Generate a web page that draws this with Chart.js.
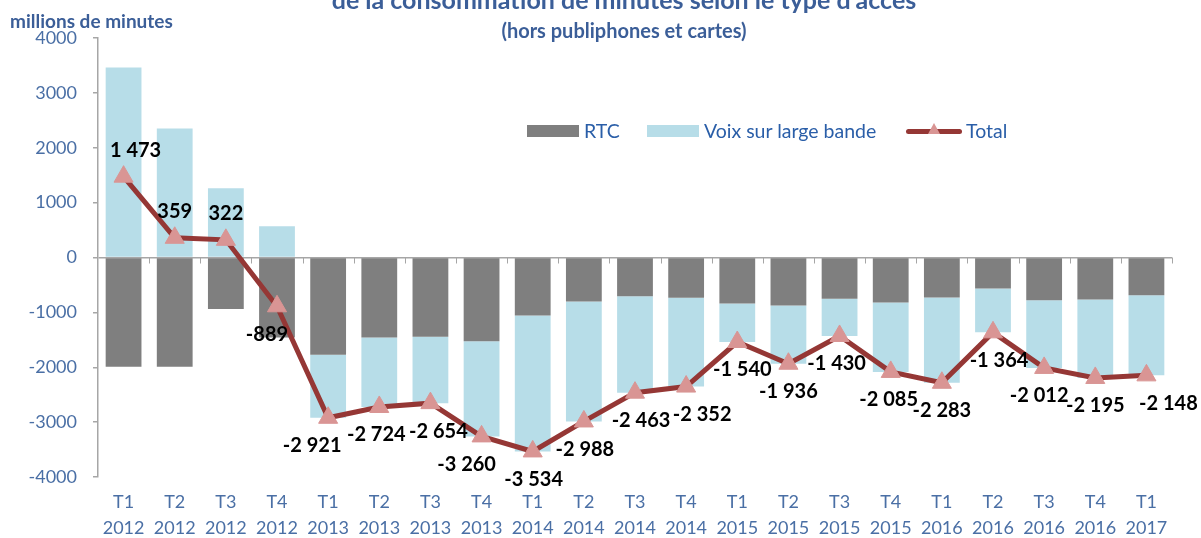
<!DOCTYPE html>
<html lang="fr">
<head>
<meta charset="utf-8">
<script src="https://cdn.jsdelivr.net/npm/chart.js@4.4.1/dist/chart.umd.min.js"></script>
<style>
  body { margin: 0; background: #fff; font-family: Lato, "Open Sans", sans-serif; }
  #wrap { position: relative; width: 1201px; height: 538px; overflow: hidden; }
  #titre { position: absolute; left: 0; width: 1248px; top: -16px; text-align: center; font-weight: bold; font-size: 25px; line-height: 30px; color: #3b5e98; white-space: nowrap; }
  #soustitre { position: absolute; left: 0; width: 1248px; top: 18px; text-align: center; font-weight: bold; font-size: 20px; line-height: 24px; color: #3b5e98; }
  #unite { position: absolute; left: 10px; top: 9px; font-weight: bold; font-size: 19px; line-height: 23px; color: #3b5e98; }
  .leg { position: absolute; top: 119px; font-size: 19.5px; color: #2a5ea8; line-height: 24px; display: flex; align-items: center; }
  .box { width: 52px; height: 12px; margin-right: 5px; }
  .ligne { position: relative; width: 56px; height: 5px; background: #953735; border-radius: 3px; margin-right: 4px; }
  .tri { position: absolute; left: 22px; top: -6px; width: 0; height: 0; border-left: 6px solid transparent; border-right: 6px solid transparent; border-bottom: 11px solid #d99594; }
</style>
</head>
<body>
<div id="wrap">
  <canvas id="c" width="1201" height="538"></canvas>
  <div id="titre">de la consommation de minutes selon le type d'accès</div>
  <div id="soustitre">(hors publiphones et cartes)</div>
  <div id="unite">millions de minutes</div>
  <div class="leg" style="left:527px"><div class="box" style="background:#7f7f7f"></div>RTC</div>
  <div class="leg" style="left:647px"><div class="box" style="background:#b7dde8"></div>Voix sur large bande</div>
  <div class="leg" style="left:906px"><div class="ligne"><div class="tri"></div></div>Total</div>
</div>
<script>
// trimestres et années (axe des x)
const trimestres = ['T1','T2','T3','T4','T1','T2','T3','T4','T1','T2','T3','T4','T1','T2','T3','T4','T1','T2','T3','T4','T1'];
const annees = ['2012','2012','2012','2012','2013','2013','2013','2013','2014','2014','2014','2014','2015','2015','2015','2015','2016','2016','2016','2016','2017'];

// variations en millions de minutes
const rtc = [-1990, -1990, -940, -1459, -1770, -1457, -1445, -1524, -1057, -801, -705, -735, -838, -874, -753, -820, -729, -565, -777, -765, -686];
const voixLargeBande = [3463, 2349, 1262, 570, -1151, -1267, -1209, -1736, -2477, -2187, -1758, -1617, -702, -1062, -677, -1265, -1554, -799, -1235, -1430, -1462];
const total = [1473, 359, 322, -889, -2921, -2724, -2654, -3260, -3534, -2988, -2463, -2352, -1540, -1936, -1430, -2085, -2283, -1364, -2012, -2195, -2148];

const yTicks = [-4000, -3000, -2000, -1000, 0, 1000, 2000, 3000, 4000];

const bleuTexte = '#4a6fa5';
const gris = '#a6a6a6';

function formatFr(v) {
    const s = Math.abs(v).toString().replace(/\B(?=(\d{3})+(?!\d))/g, ' ');
    return (v < 0 ? '-' : '') + s;
}

// petites graduations sur la ligne du zéro, entre les catégories
const separateurs = {
    id: 'separateurs',
    beforeDatasetsDraw(chart) {
        const { ctx, chartArea, scales } = chart;
        const y0 = scales.y.getPixelForValue(0);
        const n = trimestres.length;
        const w = (chartArea.right - chartArea.left) / n;
        ctx.save();
        ctx.strokeStyle = gris;
        ctx.lineWidth = 1;
        for (let i = 1; i <= n; i++) {
            const x = Math.round(chartArea.left + i * w) + 0.5;
            ctx.beginPath();
            ctx.moveTo(x, y0);
            ctx.lineTo(x, y0 + 6);
            ctx.stroke();
        }
        ctx.restore();
    }
};

// étiquettes de valeur sur la courbe Total (léger décalage horizontal comme dans l'original)
const decalageX = [12, 0, 0, -10, -16, -3, 8, -15, 1, 1, 6, 16, 5, 0, -3, -2, 0, 6, -5, 0, 22];
const etiquettes = {
    id: 'etiquettes',
    afterDatasetsDraw(chart) {
        const { ctx } = chart;
        const meta = chart.getDatasetMeta(0);
        ctx.save();
        ctx.font = 'bold 20px Lato, sans-serif';
        ctx.fillStyle = '#000';
        ctx.textAlign = 'center';
        ctx.textBaseline = 'middle';
        meta.data.forEach((pt, i) => {
            const v = total[i];
            const y = v >= 0 ? pt.y - 26 : pt.y + 28;
            ctx.fillText(formatFr(v), pt.x + decalageX[i], y);
        });
        ctx.restore();
    }
};

const ctx = document.getElementById('c').getContext('2d');
new Chart(ctx, {
    type: 'bar',
    data: {
        labels: trimestres.map((t, i) => [t, annees[i]]),
        datasets: [{
            type: 'line',
            label: 'Total',
            data: total,
            borderColor: '#953735',
            borderWidth: 5,
            pointStyle: 'triangle',
            pointRadius: 11,
            pointBackgroundColor: '#d99594',
            pointBorderColor: '#d99594',
            pointBorderWidth: 1,
            tension: 0,
            stack: 'total',
            order: 0
        }, {
            label: 'RTC',
            data: rtc,
            backgroundColor: '#7f7f7f',
            stack: 'acces',
            order: 1,
            barPercentage: 0.7,
            categoryPercentage: 1
        }, {
            label: 'Voix sur large bande',
            data: voixLargeBande,
            backgroundColor: '#b7dde8',
            stack: 'acces',
            order: 1,
            barPercentage: 0.7,
            categoryPercentage: 1
        }]
    },
    options: {
        responsive: false,
        animation: false,
        layout: { padding: { top: 38, right: 29, left: 0, bottom: 0 } },
        plugins: {
            legend: { display: false },
            tooltip: { enabled: false }
        },
        scales: {
            x: {
                stacked: true,
                grid: { display: false },
                border: { display: false },
                ticks: {
                    color: bleuTexte,
                    font: { size: 18, family: 'Lato, sans-serif', lineHeight: 1.4 },
                    padding: 5,
                    maxRotation: 0,
                    autoSkip: false
                },
                afterFit(s) { s.height = 61; }
            },
            y: {
                stacked: true,
                min: -4000,
                max: 4000,
                afterBuildTicks(s) { s.ticks = yTicks.map(v => ({ value: v })); },
                ticks: {
                    color: bleuTexte,
                    font: { size: 18, family: 'Lato, sans-serif' },
                    padding: 16,
                    callback: v => String(v)
                },
                grid: {
                    color: c => (c.tick && c.tick.value === 0) ? gris : 'rgba(0,0,0,0)',
                    tickColor: gris,
                    tickLength: 5,
                    lineWidth: 1.5
                },
                border: { color: gris, width: 1.5 },
                afterFit(s) { s.width = 98; }
            }
        }
    },
    plugins: [separateurs, etiquettes]
});
</script>
</body>
</html>
